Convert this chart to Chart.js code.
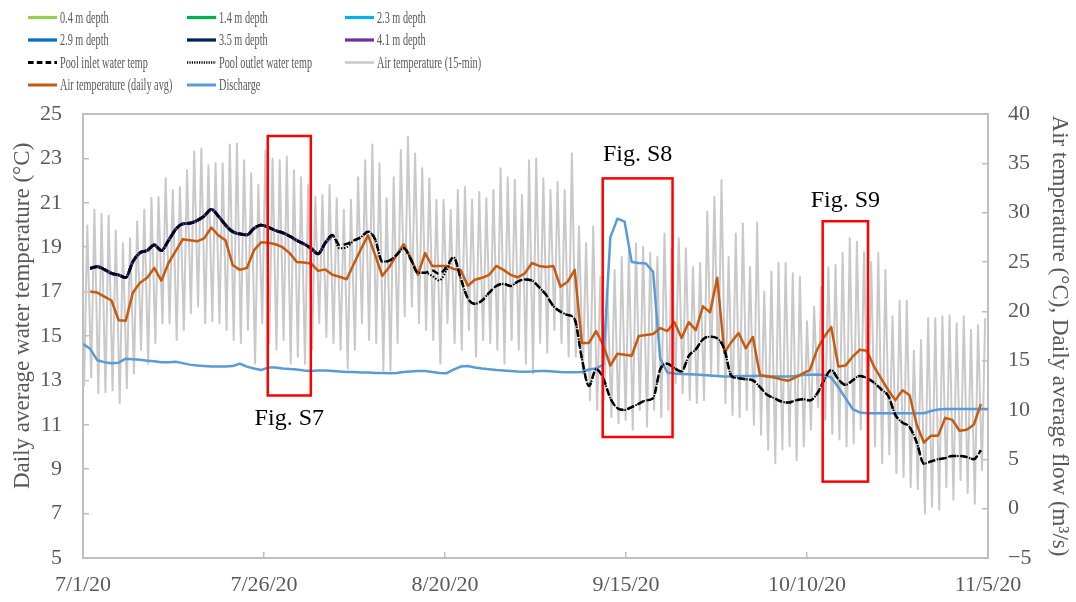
<!DOCTYPE html>
<html>
<head>
<meta charset="utf-8">
<title>Pool water temperature, air temperature and discharge, Jul–Nov 2020</title>
<script src="https://cdn.jsdelivr.net/npm/chart.js@4.4.1/dist/chart.umd.min.js"></script>
<style>
  html, body { margin: 0; padding: 0; background: #ffffff; }
  #wrap { width: 1076px; height: 602px; position: relative; }
</style>
</head>
<body>
<div id="wrap"><canvas id="chart" width="1076" height="602"></canvas></div>
<script>
// ---- Axis ticks (x values are days since 7/1/20) ----
const dateTickDays   = [0, 25.4, 50.8, 76.2, 101.6, 127];
const dateTickLabels = ['7/1/20', '7/26/20', '8/20/20', '9/15/20', '10/10/20', '11/5/20'];

// ---- Daily average water temperature (°C), from 7/2 (day 1) ----
// Profile sensors 0.4–4.1 m read the same mixed-pool temperature until 8/5.
const depthTemp = [
  18.05, 18.12, 18.0, 17.82, 17.75, 17.63, 18.35, 18.75, 18.85, 19.1,
  18.85, 19.3, 19.8, 20.05, 20.08, 20.2, 20.4, 20.7, 20.4, 20.0,
  19.7, 19.6, 19.55, 19.85, 20.0, 19.9, 19.75, 19.65, 19.5, 19.3,
  19.15, 18.95, 18.7, 19.2, 19.55
];

const inletTemp = [
  18.05, 18.12, 18.0, 17.82, 17.75, 17.63, 18.35, 18.75, 18.85, 19.1,
  18.85, 19.3, 19.8, 20.05, 20.08, 20.2, 20.4, 20.7, 20.4, 20.0,
  19.7, 19.6, 19.55, 19.85, 20.0, 19.9, 19.75, 19.65, 19.5, 19.3,
  19.15, 18.95, 18.7, 19.2, 19.55,
  19.1, 19.15, 19.3, 19.45, 19.7, 19.35, 18.35, 18.4, 18.65, 18.95,
  18.45, 17.85, 17.85, 17.95, 17.8, 18.1, 18.55, 17.6, 16.7, 16.45,
  16.6, 16.95, 17.25, 17.35, 17.25, 17.45, 17.55, 17.5, 17.2, 16.85,
  16.35, 16.1, 15.95, 15.75, 14.0, 12.75, 13.5, 13.1, 12.2, 11.75,
  11.67, 11.8, 11.95, 12.1, 12.2, 13.5, 13.75, 13.55, 13.4, 14.1,
  14.4, 14.85, 14.97, 14.9, 14.4, 13.2, 13.1, 13.05, 13.0, 12.7,
  12.35, 12.2, 12.05, 12.0, 12.1, 12.15, 12.1, 12.4, 13.0, 13.47,
  13.05, 12.8, 13.0, 13.2, 13.1, 12.9, 12.6, 12.3, 11.45, 11.1,
  10.9, 10.2, 9.25, 9.35, 9.45, 9.5, 9.6, 9.6, 9.55, 9.45, 9.85
];

const outletTemp = [
  18.05, 18.12, 18.0, 17.82, 17.75, 17.63, 18.35, 18.75, 18.85, 19.1,
  18.85, 19.3, 19.8, 20.05, 20.08, 20.2, 20.4, 20.7, 20.4, 20.0,
  19.7, 19.6, 19.55, 19.85, 20.0, 19.9, 19.75, 19.65, 19.5, 19.3,
  19.15, 18.95, 18.7, 19.2, 19.55,
  18.95, 19.0, 19.3, 19.45, 19.7, 19.35, 18.35, 18.4, 18.65, 18.95,
  18.45, 17.85, 17.85, 17.7, 17.5, 17.95, 18.55, 17.6, 16.7, 16.45,
  16.6, 16.95, 17.25, 17.35, 17.25, 17.45, 17.55, 17.5, 17.2, 16.85,
  16.35, 16.1, 15.95, 15.75, 14.0, 12.75, 13.5, 13.1, 12.2, 11.75,
  11.67, 11.8, 11.95, 12.1, 12.2, 13.5, 13.75, 13.55, 13.4, 14.1,
  14.4, 14.85, 14.97, 14.9, 14.4, 13.2, 13.1, 13.05, 13.0, 12.7,
  12.35, 12.2, 12.05, 12.0, 12.1, 12.15, 12.1, 12.4, 13.0, 13.47,
  13.05, 12.8, 13.0, 13.2, 13.1, 12.9, 12.6, 12.3, 11.45, 11.1,
  10.9, 10.2, 9.25, 9.35, 9.45, 9.5, 9.6, 9.6, 9.55, 9.45, 9.85
];

// ---- Daily average air temperature (°C), from 7/2 (day 1) ----
const airDailyAvg = [
  22.0, 21.9, 21.5, 21.1, 19.1, 19.05, 21.9, 22.9, 23.4, 24.4,
  23.1, 24.9, 26.1, 27.3, 27.2, 27.1, 27.4, 28.5, 27.7, 27.2,
  24.7, 24.2, 24.4, 26.2, 27.0, 26.95, 26.8, 26.5, 25.9, 25.0,
  24.95, 24.85, 24.1, 24.25, 23.7, 23.5, 23.25, 24.8, 26.3, 27.7,
  25.7, 23.6, 24.5, 25.7, 26.8, 25.4, 23.7, 25.9, 24.6, 24.6,
  24.6, 24.3, 24.2, 22.6, 23.2, 23.4, 23.7, 24.6, 24.2, 23.7,
  23.45, 23.85, 24.9, 24.6, 24.5, 24.6, 22.5, 23.0, 24.2, 16.8,
  16.8, 18.0, 16.6, 14.5, 15.7, 15.6, 15.5, 17.5, 17.6, 17.7,
  18.3, 18.0, 18.9, 17.3, 18.9, 18.1, 20.5, 19.9, 23.4, 15.8,
  16.9, 17.8, 16.25, 17.4, 13.55, 13.4, 13.3, 13.1, 12.97, 13.3,
  13.7, 14.05, 16.1, 17.4, 18.4, 14.4, 14.5, 15.4, 16.1, 16.0,
  14.4, 13.2, 12.0, 11.0, 12.0, 11.5, 8.5, 6.7, 7.4, 7.4,
  9.2, 9.0, 7.9, 8.0, 8.5, 10.6
];

// ---- Daily average discharge (m³/s), from 7/1 (day 0) to 11/5 ----
const discharge = [
  16.7, 16.2, 15.05, 14.85, 14.73, 14.8, 15.2, 15.15, 15.1, 15.0,
  14.95, 14.85, 14.85, 14.9, 14.75, 14.6, 14.5, 14.45, 14.4, 14.4,
  14.4, 14.45, 14.7, 14.4, 14.2, 14.05, 14.3, 14.3, 14.2, 14.15,
  14.1, 14.0, 13.95, 14.0, 14.0, 13.95, 13.9, 13.85, 13.85, 13.8,
  13.8, 13.75, 13.75, 13.72, 13.75, 13.85, 13.9, 13.95, 13.95, 13.85,
  13.75, 13.72, 14.1, 14.4, 14.45, 14.3, 14.2, 14.13, 14.05, 14.0,
  13.95, 13.9, 13.88, 13.9, 13.95, 13.95, 13.9, 13.85, 13.82, 13.82,
  13.85, 14.1, 14.2, 14.6, 27.5, 29.4, 29.1, 25.0, 24.9, 24.85,
  24.0, 15.2, 13.8, 13.7, 13.65, 13.62, 13.6, 13.55, 13.5, 13.45,
  13.4, 13.4, 13.45, 13.45, 13.45, 13.48, 13.45, 13.4, 13.4, 13.4,
  13.45, 13.55, 13.58, 13.6, 13.55, 13.3, 12.3, 11.2, 10.1, 9.75,
  9.67, 9.67, 9.67, 9.67, 9.67, 9.67, 9.67, 9.67, 9.67, 9.9,
  10.05, 10.1, 10.1, 10.1, 10.1, 10.1, 10.1, 10.1
];

// ---- 15-min air temperature: daily low and high (°C), from 7/1 (day 0) ----
const airDailyLow = [
  12.4, 13.3, 11.7, 11.8, 12.0, 10.7, 12.2, 13.7, 16.1, 14.7,
  16.8, 18.8, 18.8, 17.1, 18.1, 19.8, 20.5, 18.8, 19.0, 18.8,
  18.1, 17.1, 16.8, 18.1, 14.7, 18.8, 16.8, 16.1, 17.1, 14.7,
  15.4, 14.7, 16.1, 18.8, 17.4, 16.8, 16.1, 14.2, 16.1, 18.8,
  17.1, 16.8, 14.0, 14.0, 16.8, 19.5, 20.5, 18.8, 18.1, 17.1,
  14.7, 18.8, 16.8, 16.1, 18.1, 15.4, 17.1, 16.8, 16.1, 14.7,
  17.1, 16.1, 14.7, 13.7, 16.8, 15.8, 18.1, 16.8, 15.4, 15.4,
  13.7, 11.0, 10.0, 11.0, 9.3, 8.65, 9.0, 8.0, 10.0, 8.3,
  10.0, 9.3, 10.0, 12.7, 11.7, 11.0, 10.7, 11.0, 13.4, 13.4,
  10.7, 9.5, 9.3, 10.0, 8.5, 7.5, 6.0, 4.6, 6.0, 6.3,
  4.9, 6.3, 8.0, 10.3, 9.0, 7.6, 7.0, 6.3, 6.6, 8.0,
  8.3, 6.3, 4.6, 5.5, 3.6, 3.2, 2.2, 2.0, -0.5, 0.2,
  -0.1, 2.2, 0.9, 2.9, 1.6, 0.5, 3.9
];
const airDailyHigh = [
  28.7, 30.3, 29.9, 29.7, 28.2, 26.9, 27.4, 29.1, 30.3, 31.5,
  31.6, 33.5, 32.3, 32.6, 34.3, 36.2, 36.5, 34.8, 35.0, 35.0,
  36.9, 37.0, 35.3, 34.0, 32.8, 36.3, 35.5, 35.3, 35.7, 34.3,
  33.6, 32.8, 31.6, 31.8, 32.8, 31.45, 30.3, 31.3, 33.6, 35.3,
  36.9, 35.0, 31.45, 33.6, 36.35, 37.7, 36.0, 34.5, 33.5, 31.3,
  31.3, 30.3, 32.3, 32.6, 31.3, 32.1, 31.45, 32.3, 34.5, 33.6,
  33.3, 31.8, 35.3, 35.5, 33.5, 32.3, 33.1, 32.3, 36.0, 28.6,
  26.9, 28.6, 23.5, 22.2, 24.2, 25.5, 26.2, 26.9, 26.55, 25.9,
  25.5, 27.9, 26.4, 27.4, 26.4, 24.5, 24.9, 30.1, 31.6, 33.3,
  25.5, 27.9, 28.9, 24.5, 29.0, 22.0, 24.0, 24.9, 24.9, 23.85,
  23.5, 19.0, 20.5, 22.5, 24.5, 24.7, 25.9, 27.4, 27.05, 26.0,
  25.0, 25.9, 24.2, 19.5, 21.1, 21.1, 16.0, 17.1, 19.3, 19.3,
  19.5, 19.6, 18.8, 19.5, 18.1, 18.6, 19.3
];

// Time of day (fraction of a day) at which the diurnal low and high occur.
const LOW_AT = 0.15, HIGH_AT = 0.6;

// ---- Build {x, y} points ----
const byDay = (firstDay, values) => values.map((v, i) => ({ x: firstDay + i, y: v }));
const airTrace = [];
airDailyLow.forEach((lo, d) => {
  airTrace.push({ x: d + LOW_AT, y: lo });
  airTrace.push({ x: d + HIGH_AT, y: airDailyHigh[d] });
});

const SERIF = '"Liberation Serif", "Times New Roman", serif';
const GREY_TEXT = '#595959';
const AXIS_GREY = '#BFBFBF';

const depthLine = (label, color, order) => ({
  label, data: byDay(1, depthTemp), yAxisID: 'yL',
  borderColor: color, backgroundColor: color, borderWidth: 2.75,
  cubicInterpolationMode: 'monotone', order
});

const datasets = [
  depthLine('0.4 m depth', '#92D050', 8),
  depthLine('1.4 m depth', '#00B050', 7),
  depthLine('2.3 m depth', '#00B0F0', 6),
  depthLine('2.9 m depth', '#0070C0', 5),
  depthLine('3.5 m depth', '#002060', 4),
  depthLine('4.1 m depth', '#7030A0', 3),
  { label: 'Pool inlet water temp', data: byDay(1, inletTemp), yAxisID: 'yL',
    borderColor: '#000000', backgroundColor: '#000000', borderWidth: 2.5,
    borderDash: [7, 4], cubicInterpolationMode: 'monotone', order: 1 },
  { label: 'Pool outlet water temp', data: byDay(1, outletTemp), yAxisID: 'yL',
    borderColor: '#000000', backgroundColor: '#000000', borderWidth: 2,
    borderDash: [1.5, 1.5], cubicInterpolationMode: 'monotone', order: 2 },
  { label: 'Air temperature (15-min)', data: airTrace, yAxisID: 'yR',
    borderColor: '#C9C9C9', backgroundColor: '#C9C9C9', borderWidth: 2, order: 11 },
  { label: 'Air temperature (daily avg)', data: byDay(1, airDailyAvg), yAxisID: 'yR',
    borderColor: '#C55A11', backgroundColor: '#C55A11', borderWidth: 2.5, order: 9 },
  { label: 'Discharge', data: byDay(0, discharge), yAxisID: 'yR',
    borderColor: '#5B9BD5', backgroundColor: '#5B9BD5', borderWidth: 2.5, order: 10 }
];

// Plot area outline (all four sides)
const plotFrame = {
  id: 'plotFrame',
  beforeDatasetsDraw(chart) {
    const { ctx, chartArea: a } = chart;
    ctx.save();
    ctx.strokeStyle = AXIS_GREY;
    ctx.lineWidth = 2;
    ctx.strokeRect(a.left, a.top, a.right - a.left, a.bottom - a.top);
    ctx.restore();
  }
};

// Red boxes marking the periods shown in the supplementary figures
const figureBoxes = {
  id: 'figureBoxes',
  afterDatasetsDraw(chart, args, opts) {
    const { ctx, scales } = chart;
    const x = scales.x, y = scales.yL;
    ctx.save();
    opts.boxes.forEach(b => {
      const l = x.getPixelForValue(b.from), r = x.getPixelForValue(b.to);
      const t = y.getPixelForValue(b.top), btm = y.getPixelForValue(b.bottom);
      ctx.strokeStyle = '#FF0000';
      ctx.lineWidth = 2.5;
      ctx.strokeRect(l, t, r - l, btm - t);
      ctx.fillStyle = '#000000';
      ctx.font = '24px ' + SERIF;
      ctx.textAlign = 'center';
      ctx.textBaseline = 'alphabetic';
      const ty = b.side === 'below' ? btm + b.gap : t - b.gap;
      ctx.fillText(b.label, (l + r) / 2, ty);
    });
    ctx.restore();
  }
};

// Three-column legend above the plot
const gridLegend = {
  id: 'gridLegend',
  afterDraw(chart, args, o) {
    const ctx = chart.ctx;
    chart.data.datasets.forEach((ds, i) => {
      const x = o.columns[i % o.columns.length];
      const y = o.rows[Math.floor(i / o.columns.length)];
      ctx.save();
      ctx.strokeStyle = ds.borderColor;
      ctx.lineWidth = ds.borderWidth + 0.5;
      ctx.setLineDash(ds.borderDash ? ds.borderDash.map(v => v * 0.8) : []);
      ctx.beginPath();
      ctx.moveTo(x, y);
      ctx.lineTo(x + o.sampleLength, y);
      ctx.stroke();
      ctx.setLineDash([]);
      ctx.translate(x + o.sampleLength + o.textGap, y + 1);
      ctx.scale(o.textScaleX, 1);
      ctx.fillStyle = GREY_TEXT;
      ctx.font = o.fontSize + 'px ' + SERIF;
      ctx.textAlign = 'left';
      ctx.textBaseline = 'middle';
      ctx.fillText(ds.label, 0, 0);
      ctx.restore();
    });
  }
};

const tickFont = { family: SERIF, size: 22 };
const titleFont = { family: SERIF, size: 23 };

new Chart(document.getElementById('chart'), {
  type: 'line',
  data: { datasets },
  plugins: [plotFrame, figureBoxes, gridLegend],
  options: {
    responsive: false,
    devicePixelRatio: 1,
    animation: false,
    events: [],
    layout: { padding: { top: 114, left: 0, right: 0, bottom: 0 } },
    elements: {
      point: { radius: 0, hoverRadius: 0 },
      line: { tension: 0, borderJoinStyle: 'round', fill: false }
    },
    plugins: {
      legend: { display: false },
      tooltip: { enabled: false },
      gridLegend: {
        columns: [28, 187, 345],
        rows: [17.5, 40, 62.5, 85],
        sampleLength: 29,
        textGap: 3,
        fontSize: 16,
        textScaleX: 0.64
      },
      figureBoxes: {
        boxes: [
          { label: 'Fig. S7', from: 25.93, to: 31.97, top: 24.01, bottom: 12.32, side: 'below', gap: 29.5 },
          { label: 'Fig. S8', from: 72.93, to: 82.73, top: 22.10, bottom: 10.45, side: 'above', gap: 17.5 },
          { label: 'Fig. S9', from: 103.8, to: 110.16, top: 20.17, bottom: 8.44, side: 'above', gap: 14 }
        ]
      }
    },
    scales: {
      x: {
        type: 'linear',
        position: 'bottom',
        min: 0,
        max: 127,
        afterBuildTicks: s => { s.ticks = dateTickDays.map(v => ({ value: v })); },
        afterFit: s => { s.height = 44; },
        ticks: {
          callback: (v, i) => dateTickLabels[i],
          autoSkip: false, maxRotation: 0, minRotation: 0,
          font: tickFont, color: GREY_TEXT, padding: 20
        },
        grid: { display: true, drawOnChartArea: false, drawTicks: true, tickLength: -6, color: AXIS_GREY, lineWidth: 1.5 },
        border: { display: false }
      },
      yL: {
        type: 'linear',
        position: 'left',
        min: 5,
        max: 25,
        afterFit: s => { s.width = 83; },
        ticks: { stepSize: 2, font: tickFont, color: GREY_TEXT, padding: 27 },
        grid: { display: true, drawOnChartArea: false, drawTicks: true, tickLength: -6, color: AXIS_GREY, lineWidth: 1.5 },
        border: { display: false },
        title: {
          display: true,
          text: '\u00a0\u00a0\u00a0\u00a0\u00a0\u00a0\u00a0Daily average water temperature (°C)',
          font: titleFont, color: GREY_TEXT, padding: { top: 9, bottom: 0 }
        }
      },
      yR: {
        type: 'linear',
        position: 'right',
        min: -5,
        max: 40,
        afterFit: s => { s.width = 88; },
        ticks: {
          stepSize: 5, font: tickFont, color: GREY_TEXT, padding: 26,
          callback: v => (v < 0 ? '\u2212' + Math.abs(v) : String(v))
        },
        grid: { display: true, drawOnChartArea: false, drawTicks: true, tickLength: -6, color: AXIS_GREY, lineWidth: 1.5 },
        border: { display: false },
        title: {
          display: true,
          text: 'Air temperature (°C), Daily average flow (m³/s)',
          font: titleFont, color: GREY_TEXT, padding: { top: 3, bottom: 0 }
        }
      }
    }
  }
});
</script>
</body>
</html>
